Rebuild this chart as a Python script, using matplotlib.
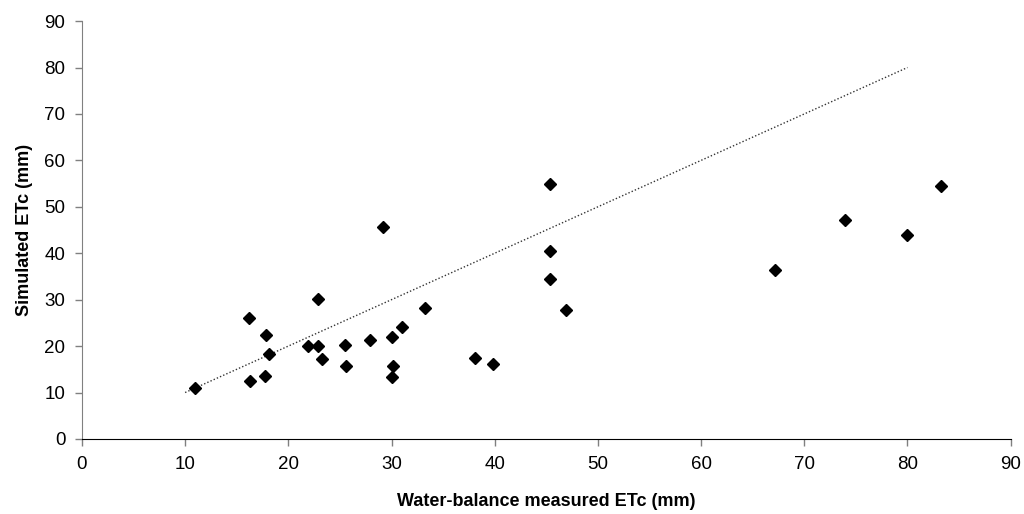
import matplotlib
matplotlib.use("Agg")
import matplotlib.pyplot as plt

measured_etc = [11.0, 16.2, 16.3, 17.8, 17.7, 18.1, 21.9, 22.9, 22.9, 23.3,
                25.5, 25.6, 27.9, 29.2, 30.0, 30.1, 30.0, 31.0, 33.2, 38.1,
                39.8, 45.4, 45.4, 45.4, 46.9, 67.2, 73.9, 80.0, 83.2]
simulated_etc = [10.9, 26.1, 12.4, 22.3, 13.5, 18.3, 20.0, 30.2, 20.0, 17.3,
                 20.3, 15.7, 21.3, 45.7, 21.9, 15.7, 13.4, 24.1, 28.2, 17.5,
                 16.1, 55.0, 40.5, 34.4, 27.8, 36.4, 47.2, 43.9, 54.5]
line_x = [10, 80]
line_y = [10, 80]
ticks = [0, 10, 20, 30, 40, 50, 60, 70, 80, 90]

plt.rcParams['font.family'] = ['Liberation Sans', 'DejaVu Sans']

fig = plt.figure(figsize=(10.24, 5.14), dpi=100)
ax = fig.add_axes([0.080, 0.146, 0.907, 0.813])

ax.plot(line_x, line_y, linestyle=(0, (1, 1.5)), color='#333333', linewidth=1.0, zorder=1)
ax.plot(measured_etc, simulated_etc, linestyle='none', marker='D', markersize=6.5,
        color='black', zorder=2)

ax.set_xlim(0, 90)
ax.set_ylim(0, 90)
ax.set_xticks(ticks)
ax.set_yticks(ticks)
ax.tick_params(axis='both', labelsize=13.5, direction='out', length=5, width=1, pad=7)
ax.tick_params(axis='y', color='#808080')
ax.tick_params(axis='x', color='#808080')

for s in ['top', 'right']:
    ax.spines[s].set_visible(False)
ax.spines['left'].set_color('#808080')
ax.spines['bottom'].set_color('black')

ax.set_xlabel('Water-balance measured ETc (mm)', fontsize=13, fontweight='bold', labelpad=15)
ax.set_ylabel('Simulated ETc (mm)', fontsize=13, fontweight='bold', labelpad=8)

fig.savefig('out.png', dpi=100)
